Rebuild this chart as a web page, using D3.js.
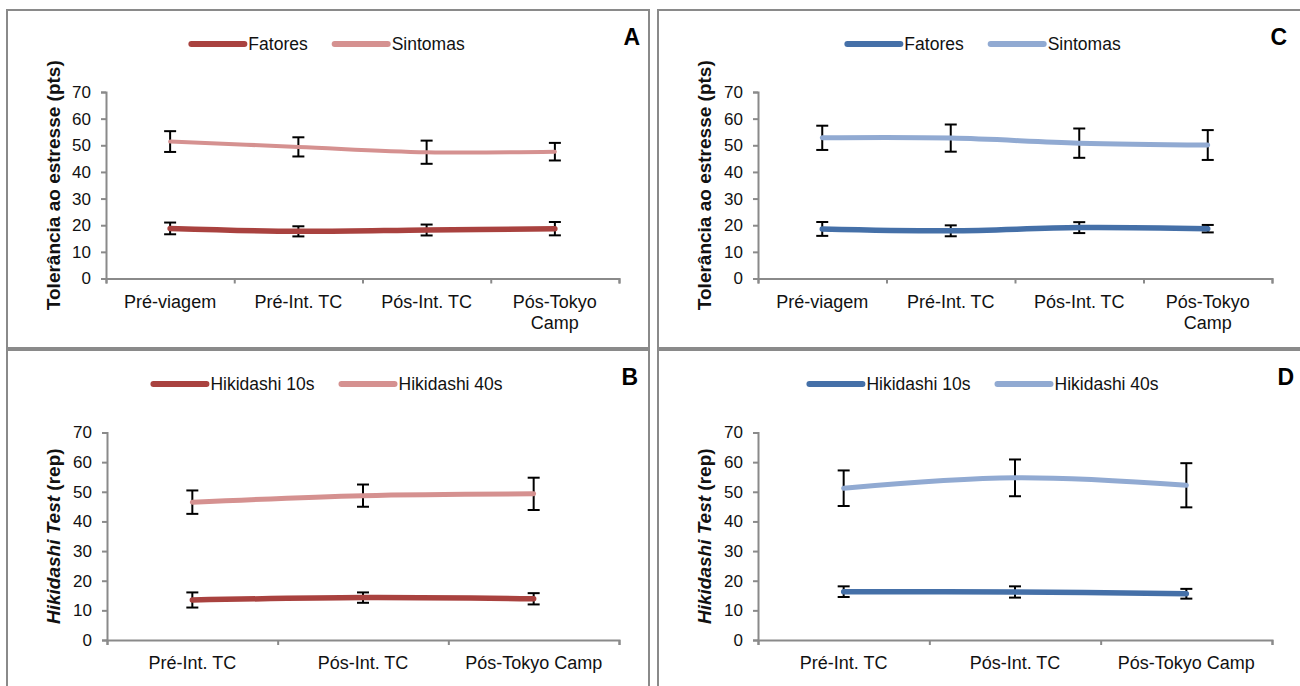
<!DOCTYPE html>
<html>
<head>
<meta charset="utf-8">
<script src="https://cdn.jsdelivr.net/npm/d3@7"></script>
<style>
  body { margin: 0; background: #fff; }
  svg { display: block; font-family: "Liberation Sans", Arial, sans-serif; }
</style>
</head>
<body>
<svg id="chart" width="1300" height="686"></svg>
<script>
// categories
let catsStress = ["Pré-viagem", "Pré-Int. TC", "Pós-Int. TC", "Pós-Tokyo Camp"]
let catsHiki = ["Pré-Int. TC", "Pós-Int. TC", "Pós-Tokyo Camp"]

// A - stress tolerance (red)
let aFatores = [18.8, 17.7, 18.2, 18.7]
let aFatoresSd = [2.2, 1.9, 2.05, 2.5]
let aSintomas = [51.4, 49.4, 47.4, 47.6]
let aSintomasSd = [3.9, 3.6, 4.35, 3.3]

// C - stress tolerance (blue)
let cFatores = [18.6, 17.9, 19.1, 18.7]
let cFatoresSd = [2.6, 2.05, 2.05, 1.4]
let cSintomas = [52.8, 52.7, 50.8, 50.1]
let cSintomasSd = [4.55, 5.1, 5.5, 5.6]

// B - hikidashi (red)
let b10s = [13.5, 14.3, 13.9]
let b10sSd = [2.55, 1.75, 1.9]
let b40s = [46.5, 48.7, 49.3]
let b40sSd = [3.95, 3.75, 5.45]

// D - hikidashi (blue)
let d10s = [16.3, 16.2, 15.6]
let d10sSd = [1.8, 1.9, 1.65]
let d40s = [51.2, 54.7, 52.2]
let d40sSd = [6.0, 6.2, 7.45]

let yTicks = [0, 10, 20, 30, 40, 50, 60, 70]

let red = "#A9423F", redLight = "#D59190"
let blue = "#4570A8", blueLight = "#91AAD2"

const svg = d3.select("#chart")

function drawPanel(p){
  let g = svg.append("g")

  // frame
  g.append("rect")
    .attr("x", p.box[0]).attr("y", p.box[1])
    .attr("width", p.box[2]).attr("height", p.box[3])
    .attr("fill", "none").attr("stroke", "#8a8a8a").attr("stroke-width", 2)

  let x = d3.scaleBand().domain(p.cats).range([p.x0, p.x1])
  let xb = d3.scaleLinear().domain([0, p.cats.length]).range([p.x0, p.x1])
  let y = d3.scaleLinear().domain([0, 70]).range([p.yBot, p.yTop])

  // y axis
  let ya = g.append("g").attr("transform", "translate(" + p.x0 + ",0)")
    .call(d3.axisLeft(y).tickValues(yTicks).tickSize(5).tickPadding(10))
  ya.selectAll("text").attr("font-size", 17).attr("fill", "#111").attr("font-family", "Liberation Sans, Arial")
  ya.selectAll("line, path").attr("stroke", "#8a8a8a").attr("stroke-width", 2)

  // x axis (ticks at category boundaries)
  let xa = g.append("g").attr("transform", "translate(0," + p.yBot + ")")
    .call(d3.axisBottom(xb).tickValues(d3.range(p.cats.length + 1)).tickFormat("").tickSize(5).tickSizeOuter(5))
  xa.selectAll("line, path").attr("stroke", "#8a8a8a").attr("stroke-width", 2)

  // category labels, wrapped when too wide
  p.cats.forEach(function(c){
    let t = g.append("text")
      .attr("x", x(c) + x.bandwidth() / 2).attr("y", p.yBot + 29)
      .attr("text-anchor", "middle").attr("font-size", 18).attr("fill", "#111")
      .text(c)
    if(t.node().getComputedTextLength() > x.bandwidth() - 8){
      let words = c.split(" ")
      let last = words.pop()
      t.text(words.join(" "))
      g.append("text")
        .attr("x", x(c) + x.bandwidth() / 2).attr("y", p.yBot + 50)
        .attr("text-anchor", "middle").attr("font-size", 18).attr("fill", "#111")
        .text(last)
    }
  })

  // y title
  let yt = g.append("text")
    .attr("transform", "translate(" + p.titleX + "," + (p.yTop + p.yBot) / 2 + ") rotate(-90)")
    .attr("text-anchor", "middle").attr("font-size", 19).attr("font-weight", "bold").attr("fill", "#111")
  p.title.forEach(function(part){
    yt.append("tspan").attr("font-style", part[1] ? "italic" : "normal").text(part[0])
  })

  // panel letter
  g.append("text")
    .attr("x", p.letterX).attr("y", p.letterY)
    .attr("text-anchor", "end").attr("font-size", 23).attr("font-weight", "bold")
    .text(p.letter)

  let cx = function(i){ return x(p.cats[i]) + x.bandwidth() / 2 }
  let line = d3.line().x(function(d, i){ return cx(i) }).y(function(d){ return y(d) })
    .curve(d3.curveCatmullRom.alpha(0.5))

  p.series.forEach(function(s){
    // error bars
    s.values.forEach(function(v, i){
      let eb = g.append("g").attr("stroke", "#000").attr("stroke-width", 2)
      eb.append("line").attr("x1", cx(i)).attr("x2", cx(i)).attr("y1", y(v + s.sd[i])).attr("y2", y(v - s.sd[i]))
      eb.append("line").attr("x1", cx(i) - 6).attr("x2", cx(i) + 6).attr("y1", y(v + s.sd[i])).attr("y2", y(v + s.sd[i]))
      eb.append("line").attr("x1", cx(i) - 6).attr("x2", cx(i) + 6).attr("y1", y(v - s.sd[i])).attr("y2", y(v - s.sd[i]))
    })
  })
  p.series.forEach(function(s){
    g.append("path").datum(s.values)
      .attr("d", line).attr("fill", "none")
      .attr("stroke", s.color).attr("stroke-width", s.width).attr("stroke-linecap", "round")
  })

  // legend, centered in the frame
  let lg = g.append("g")
  let pos = 0
  p.series.forEach(function(s, i){
    if(i > 0) pos += 27
    lg.append("line").attr("x1", pos).attr("x2", pos + 53).attr("y1", 0).attr("y2", 0)
      .attr("stroke", s.color).attr("stroke-width", 6).attr("stroke-linecap", "round")
    let t = lg.append("text").attr("x", pos + 57).attr("y", 6).attr("font-size", 17.5).attr("fill", "#111").text(s.name)
    pos += 57 + t.node().getComputedTextLength()
  })
  let mid = p.box[0] + p.box[2] / 2
  lg.attr("transform", "translate(" + (mid - pos / 2) + "," + p.legendY + ")")
}

let stressTitle = [["Tolerância ao estresse (pts)", false]]
let hikiTitle = [["Hikidashi Test", true], [" (rep)", false]]

drawPanel({
  box: [7, 10, 642, 338], x0: 106, x1: 619, yTop: 92, yBot: 278.5, titleX: 60,
  cats: catsStress, title: stressTitle, letter: "A", letterX: 640, letterY: 45, legendY: 44,
  series: [
    {name: "Fatores", values: aFatores, sd: aFatoresSd, color: red, width: 5.5},
    {name: "Sintomas", values: aSintomas, sd: aSintomasSd, color: redLight, width: 4}
  ]
})
drawPanel({
  box: [658, 10, 652, 338], x0: 758, x1: 1272, yTop: 92, yBot: 278.5, titleX: 711,
  cats: catsStress, title: stressTitle, letter: "C", letterX: 1287, letterY: 45, legendY: 44,
  series: [
    {name: "Fatores", values: cFatores, sd: cFatoresSd, color: blue, width: 5.5},
    {name: "Sintomas", values: cSintomas, sd: cSintomasSd, color: blueLight, width: 5}
  ]
})
drawPanel({
  box: [7, 350, 642, 345], x0: 107, x1: 619, yTop: 432.5, yBot: 640, titleX: 60,
  cats: catsHiki, title: hikiTitle, letter: "B", letterX: 638, letterY: 385, legendY: 384,
  series: [
    {name: "Hikidashi 10s", values: b10s, sd: b10sSd, color: red, width: 5.5},
    {name: "Hikidashi 40s", values: b40s, sd: b40sSd, color: redLight, width: 5}
  ]
})
drawPanel({
  box: [658, 350, 652, 345], x0: 758, x1: 1272, yTop: 432.5, yBot: 640, titleX: 711,
  cats: catsHiki, title: hikiTitle, letter: "D", letterX: 1294, letterY: 385, legendY: 384,
  series: [
    {name: "Hikidashi 10s", values: d10s, sd: d10sSd, color: blue, width: 5.5},
    {name: "Hikidashi 40s", values: d40s, sd: d40sSd, color: blueLight, width: 5}
  ]
})
</script>
</body>
</html>
